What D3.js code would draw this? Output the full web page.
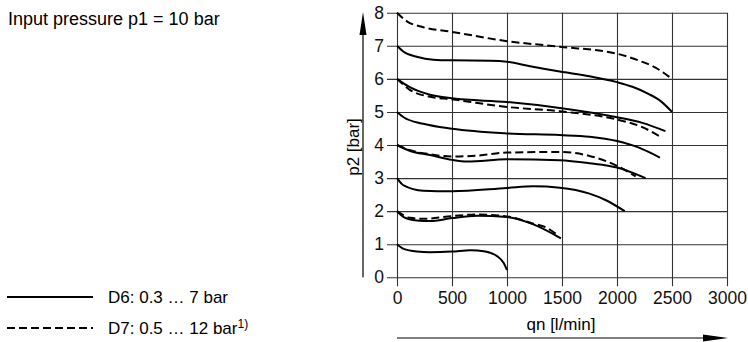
<!DOCTYPE html>
<html>
<head>
<meta charset="utf-8">
<script src="https://cdn.jsdelivr.net/npm/d3@7"></script>
<style>
  body { margin: 0; background: #fff; }
  svg { display: block; font-family: "Liberation Sans", Arial, sans-serif; }
  .tick text { font-size: 17.5px; fill: #111; }
</style>
</head>
<body>
<div id="chart"></div>
<script>
// flow rate qn [l/min] vs output pressure p2 [bar]
var xTicks = [0, 500, 1000, 1500, 2000, 2500, 3000];
var yTicks = [0, 1, 2, 3, 4, 5, 6, 7, 8];

// D6 (solid)
var d6at7 = [[0,7],[60,6.82],[180,6.67],[330,6.58],[500,6.56],[850,6.55],[1000,6.52],[1210,6.38],[1480,6.22],[1750,6.08],[2000,5.9],[2140,5.76],[2290,5.54],[2400,5.32],[2500,5.0]];
var d6at6 = [[0,6],[120,5.74],[300,5.52],[500,5.41],[1000,5.3],[1480,5.12],[2000,4.84],[2230,4.67],[2440,4.42]];
var d6at5 = [[0,5],[60,4.84],[240,4.64],[500,4.49],[1000,4.35],[1480,4.3],[1750,4.25],[2000,4.12],[2200,3.92],[2390,3.62]];
var d6at4 = [[0,4],[120,3.82],[300,3.7],[500,3.55],[640,3.5],[1000,3.57],[1480,3.54],[1750,3.45],[2000,3.32],[2260,3.0]];
var d6at3 = [[0,3],[60,2.78],[240,2.62],[500,2.6],[1000,2.7],[1240,2.75],[1480,2.71],[1750,2.53],[1900,2.33],[2070,2.0]];
var d6at2 = [[0,2],[60,1.82],[180,1.72],[300,1.7],[500,1.79],[730,1.86],[1000,1.82],[1240,1.6],[1490,1.18]];
var d6at1 = [[0,1],[60,0.86],[180,0.78],[300,0.76],[500,0.78],[670,0.82],[790,0.79],[910,0.64],[970,0.43],[1000,0.22]];

// D7 (dashed)
var d7at8 = [[0,8],[90,7.74],[240,7.56],[500,7.42],[1000,7.14],[1480,6.97],[2000,6.76],[2200,6.55],[2350,6.34],[2500,6.0]];
var d7at6 = [[0,6],[120,5.66],[300,5.46],[500,5.38],[1000,5.15],[1480,5.02],[2000,4.77],[2230,4.54],[2400,4.24]];
var d7at4 = [[0,4],[120,3.84],[300,3.72],[500,3.65],[730,3.68],[1000,3.77],[1480,3.79],[1750,3.67],[2000,3.37],[2170,3.05]];
var d7at2 = [[0,2],[120,1.8],[240,1.77],[500,1.85],[730,1.9],[1000,1.84],[1240,1.62],[1360,1.5],[1450,1.3]];

var solidCurves = [d6at7, d6at6, d6at5, d6at4, d6at3, d6at2, d6at1];
var dashedCurves = [d7at8, d7at6, d7at4, d7at2];

var w = 748, h = 342;
var pLeft = 397, pRight = 727, pTop = 12.7, pBottom = 277.3;

var svg = d3.select("#chart").append("svg").attr("width", w).attr("height", h);

var x = d3.scaleLinear().domain([0, 3000]).range([pLeft, pRight]);
var y = d3.scaleLinear().domain([0, 8]).range([pBottom, pTop]);

// horizontal grid + y ticks
var yAxis = svg.append("g")
  .attr("transform", "translate(" + pRight + ",0)")
  .call(d3.axisLeft(y).tickValues(yTicks).tickFormat(d3.format("d"))
    .tickSize(pRight - pLeft + 10).tickPadding(3));
yAxis.select(".domain").remove();
yAxis.selectAll(".tick line").attr("stroke", "#333").attr("stroke-width", 1.1);

// vertical grid + x ticks
var xAxis = svg.append("g")
  .attr("transform", "translate(0," + pTop + ")")
  .call(d3.axisBottom(x).tickValues(xTicks).tickFormat(d3.format("d"))
    .tickSize(pBottom - pTop + 9).tickPadding(5));
xAxis.select(".domain").remove();
xAxis.selectAll(".tick line").attr("stroke", "#333").attr("stroke-width", 1.1);

var line = d3.line()
  .x((d) => x(d[0]))
  .y((d) => y(d[1]))
  .curve(d3.curveMonotoneX);

svg.append("g").selectAll("path")
  .data(solidCurves)
  .enter()
  .append("path")
  .attr("d", line)
  .attr("fill", "none")
  .attr("stroke", "#000")
  .attr("stroke-width", 2);

svg.append("g").selectAll("path")
  .data(dashedCurves)
  .enter()
  .append("path")
  .attr("d", line)
  .attr("fill", "none")
  .attr("stroke", "#000")
  .attr("stroke-width", 2)
  .attr("stroke-dasharray", "8,4");

// axis arrows
svg.append("line")
  .attr("x1", 363).attr("y1", pBottom).attr("x2", 363).attr("y2", 30)
  .attr("stroke", "#000").attr("stroke-width", 1.2);
svg.append("path")
  .attr("d", "M363,12 L359.5,35 L366.5,35 Z")
  .attr("fill", "#000");

svg.append("line")
  .attr("x1", pLeft).attr("y1", 338).attr("x2", 710).attr("y2", 338)
  .attr("stroke", "#000").attr("stroke-width", 1.2);
svg.append("path")
  .attr("d", "M728,338 L703,334.5 L703,341.5 Z")
  .attr("fill", "#000");

svg.append("text")
  .attr("transform", "translate(359,147) rotate(-90)")
  .attr("text-anchor", "middle")
  .style("font-size", "17px")
  .text("p2 [bar]");

svg.append("text")
  .attr("x", 561).attr("y", 330)
  .attr("text-anchor", "middle")
  .style("font-size", "17px")
  .text("qn [l/min]");

svg.append("text")
  .attr("x", 8).attr("y", 25)
  .style("font-size", "18px")
  .text("Input pressure p1 = 10 bar");

// legend
svg.append("line")
  .attr("x1", 7).attr("y1", 297).attr("x2", 93).attr("y2", 297)
  .attr("stroke", "#000").attr("stroke-width", 2);
svg.append("line")
  .attr("x1", 7).attr("y1", 328).attr("x2", 93).attr("y2", 328)
  .attr("stroke", "#000").attr("stroke-width", 2)
  .attr("stroke-dasharray", "8,4");

svg.append("text")
  .attr("x", 108).attr("y", 303)
  .style("font-size", "17px")
  .text("D6: 0.3 … 7 bar");

var t2 = svg.append("text")
  .attr("x", 108).attr("y", 334)
  .style("font-size", "17px");
t2.append("tspan").text("D7: 0.5 … 12 bar");
t2.append("tspan").attr("dy", -6).style("font-size", "12px").text("1)");
</script>
</body>
</html>
